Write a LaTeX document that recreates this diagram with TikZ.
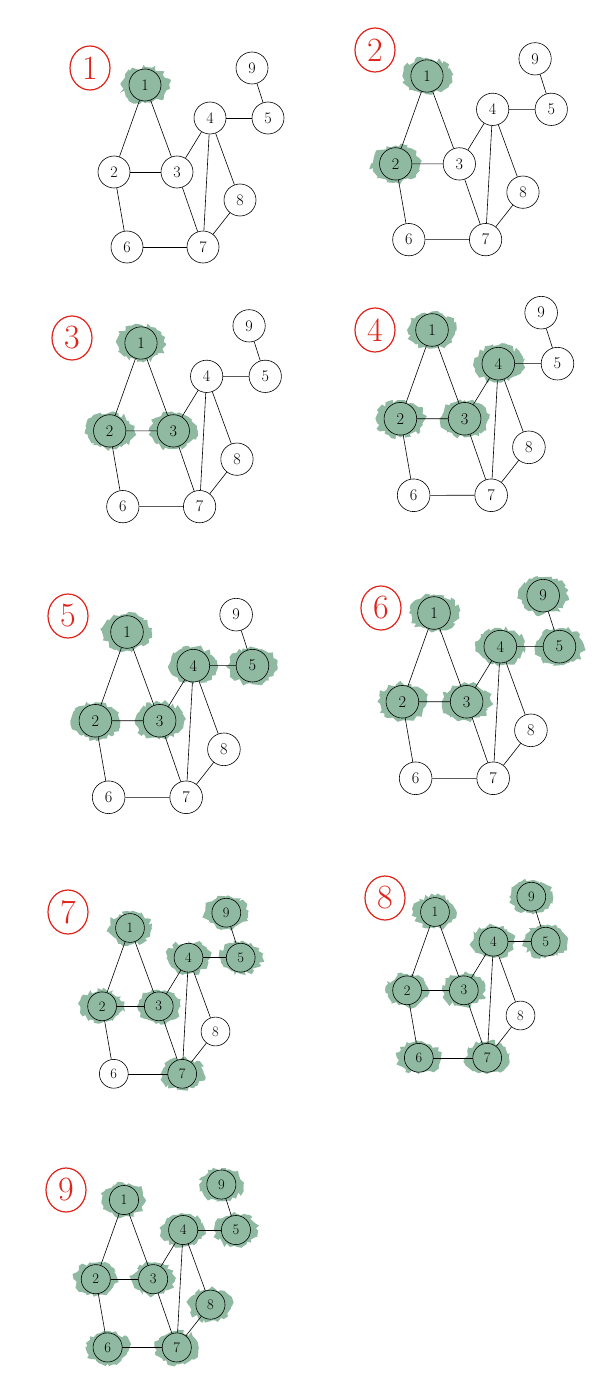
\documentclass[tikz,border=0pt]{standalone}
\usepackage{xcolor}
\usetikzlibrary{decorations.pathmorphing,shapes.geometric}
\definecolor{bfsGreen}{HTML}{8FB9A0}
\definecolor{bfsRed}{HTML}{E0241B}
\tikzset{
  vtx/.style={
    circle,
    draw=black,
    line width=0.6pt,
    minimum size=32pt,
    inner sep=0pt,
    font=\fontsize{16}{16}\selectfont
  },
  scribble/.style={
    fill=bfsGreen,
    decorate,
    decoration={random steps, segment length=3pt, amplitude=2.5pt}
  },
  steplabel/.style={
    ellipse,
    draw=bfsRed,
    line width=1.2pt,
    text=bfsRed,
    minimum width=40pt,
    minimum height=44pt,
    inner sep=0pt,
    font=\fontsize{34}{34}\selectfont
  },
  link/.style={line width=0.6pt, draw=black}
}
% one panel: id, position of vertex 1, scale, label position, visited vertices
\newcommand{\graphpanel}[5]{%
  \node[steplabel] (p#1label) at (#4) {#1};
  \begin{scope}[shift={(#2)}, scale=#3, transform shape]
    \foreach \v/\px/\py in {1/0/0,2/-31/87,3/32/87,4/65/33,5/123/33,9/107/-17,8/95/115,6/-18/162,7/58/162}
      \coordinate (p#1c\v) at (\px,\py);
    \foreach \v in {#5} {
      \path[scribble] (p#1c\v) ellipse (24pt and 18pt);
      \fill[bfsGreen] (p#1c\v) circle (16pt);
    }
    \foreach \v in {1,...,9}
      \node[vtx] (p#1n\v) at (p#1c\v) {\v};
    \foreach \a/\b in {1/2,1/3,2/3,2/6,3/4,3/7,4/5,4/7,4/8,5/9,6/7,7/8}
      \draw[link] (p#1n\a) -- (p#1n\b);
  \end{scope}}

\begin{document}
\begin{tikzpicture}[x=1pt, y=-1pt]
  \useasboundingbox[fill=white] (0,0) rectangle (610,1386);

  \graphpanel{1}{145,85}{1}{90,68}{1}
  \graphpanel{2}{427,76}{1.01}{375,50}{1,2}
  \graphpanel{3}{141,343}{1.01}{72,338}{1,2,3}
  \graphpanel{4}{432,330}{1.02}{375,330}{1,2,3,4}
  \graphpanel{5}{127,632}{1.02}{68,616}{1,2,3,4,5}
  \graphpanel{6}{434,613}{1.02}{381,608}{1,2,3,4,5,9}
  \graphpanel{7}{130,928}{0.9}{68,912}{1,2,3,4,5,9,7}
  \graphpanel{8}{435,912}{0.9}{385,898}{1,2,3,4,5,9,7,6}
  \graphpanel{9}{124,1200}{0.91}{66,1190}{1,...,9}
\end{tikzpicture}
\end{document}
